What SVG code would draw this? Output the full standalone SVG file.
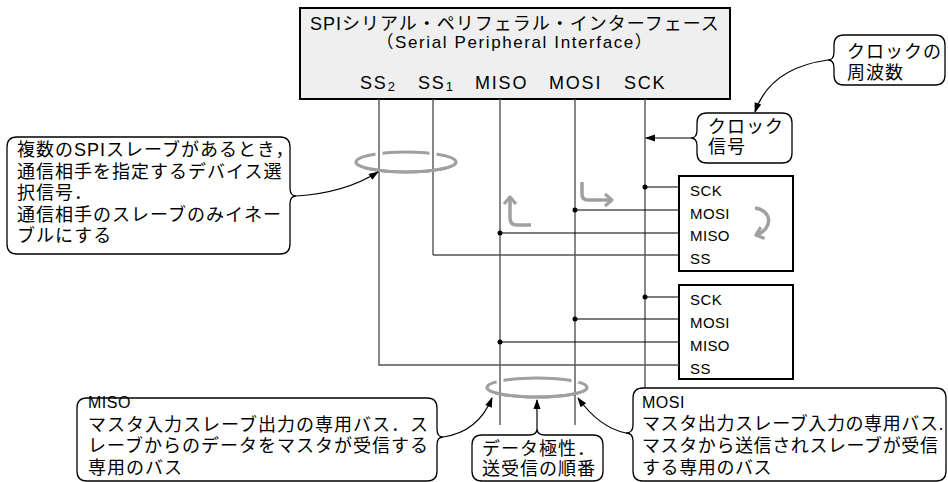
<svg xmlns="http://www.w3.org/2000/svg" width="948" height="482" viewBox="0 0 948 482">
<defs>
<style>
.t{font-family:"Liberation Sans","Noto Sans CJK JP",sans-serif;fill:#000}
.j{font-size:18px;letter-spacing:1px}
.jn{font-size:18px;letter-spacing:0.6px}
.lab{font-size:18px;letter-spacing:1.8px}
.s{font-size:15px;letter-spacing:0.4px}
.box{fill:#fff;stroke:#000;stroke-width:2}
.call{fill:#fff;stroke:#000;stroke-width:1.3}
.w{stroke:#555;stroke-width:1.4;fill:none}
.h{stroke:#000;stroke-width:1.2;fill:none}
.ring{fill:none;stroke:#a0a0a0;stroke-width:3}
.halo{stroke:#fff;stroke-width:7}
.ga{fill:none;stroke:#a0a0a0;stroke-width:3.5;stroke-linejoin:round}
.lead{fill:none;stroke:#000;stroke-width:1.2}
</style>
<marker id="ba" markerUnits="userSpaceOnUse" markerWidth="10" markerHeight="8" refX="9" refY="3.5" orient="auto" overflow="visible">
<path d="M0,0 L10,3.5 L0,7 z" fill="#000"/>
</marker>
<marker id="ga" markerUnits="userSpaceOnUse" markerWidth="10" markerHeight="14" refX="8" refY="6" orient="auto" overflow="visible">
<path d="M1,0 L8,6 L1,12" fill="none" stroke="#a0a0a0" stroke-width="3.2" stroke-linejoin="round"/>
</marker>
</defs>

<g id="master">
<rect x="300" y="8" width="430" height="91" fill="#efefef" stroke="#000" stroke-width="2"/>
<text class="t j" x="310" y="30">SPIシリアル・ペリフェラル・インターフェース</text>
<text class="t" x="515" y="48" text-anchor="middle" style="font-size:17px;letter-spacing:1.6px">（Serial Peripheral Interface）</text>
<text class="t lab" x="360" y="89">SS<tspan style="font-size:13px;letter-spacing:0" dy="2">2</tspan></text>
<text class="t lab" x="418" y="89">SS<tspan style="font-size:13px;letter-spacing:0" dy="2">1</tspan></text>
<text class="t lab" x="475" y="89">MISO</text>
<text class="t lab" x="549" y="89">MOSI</text>
<text class="t lab" x="624" y="89">SCK</text>
</g>

<g id="slave1">
<rect class="box" x="679" y="176" width="114" height="95"/>
<text class="t s" x="690" y="196">SCK</text>
<text class="t s" x="690" y="218.5">MOSI</text>
<text class="t s" x="690" y="241">MISO</text>
<text class="t s" x="690" y="263.5">SS</text>
</g>

<g id="slave2">
<rect class="box" x="679" y="285" width="114" height="94"/>
<text class="t s" x="690" y="305">SCK</text>
<text class="t s" x="690" y="328">MOSI</text>
<text class="t s" x="690" y="351">MISO</text>
<text class="t s" x="690" y="374">SS</text>
</g>

<g id="rings-back">
<ellipse class="ring" cx="406" cy="162" rx="50" ry="10"/>
<ellipse class="ring" cx="537" cy="387.5" rx="50" ry="9.5"/>
<line class="halo" x1="379" y1="147" x2="379" y2="157"/>
<line class="halo" x1="433" y1="147" x2="433" y2="157"/>
<line class="halo" x1="500" y1="373" x2="500" y2="383"/>
<line class="halo" x1="575" y1="373" x2="575" y2="383"/>
</g>

<g id="connectors">
<path class="w" d="M379,99 V365 H679"/>
<path class="w" d="M433,99 V255"/>
<path class="h" d="M433,255 H679"/>
<path class="w" d="M500,99 V425"/>
<path class="w" d="M575,99 V425"/>
<path class="w" d="M645,99 V388"/>
<path class="h" d="M645,187 H679 M575,210 H679 M500,233 H679 M645,297 H679 M575,319 H679 M500,342 H679"/>
<g fill="#000">
<circle cx="645" cy="187" r="2.5"/>
<circle cx="575" cy="210" r="2.5"/>
<circle cx="500" cy="233" r="2.5"/>
<circle cx="645" cy="297" r="2.5"/>
<circle cx="575" cy="319" r="2.5"/>
<circle cx="500" cy="342" r="2.5"/>
</g>
<path class="ring" d="M356,162 A50,10 0 0 0 456,162"/>
<path class="ring" d="M487,387.5 A50,9.5 0 0 0 587,387.5"/>
<path class="ga" d="M531,225 H517 Q510,225 510,218 V197" marker-end="url(#ga)"/>
<path class="ga" d="M582,182 V194 Q582,200 588,200 H612" marker-end="url(#ga)"/>
<path class="ga" d="M755,208 C772,210 774,229 756,235" marker-end="url(#ga)"/>
<path class="lead" d="M296,196 Q345,193 378,172" marker-end="url(#ba)"/>
<path class="lead" d="M828,60 Q770,68 755,112" marker-end="url(#ba)"/>
<path class="lead" d="M691,138 H646" marker-end="url(#ba)"/>
<path class="lead" d="M443,437 Q478,432 492,398" marker-end="url(#ba)"/>
<path class="lead" d="M537,429 V400" marker-end="url(#ba)"/>
<path class="lead" d="M626,433 Q600,428 578,398" marker-end="url(#ba)"/>
</g>

<g id="note-ss">
<path class="call" d="M17,137 H280 Q290,137 290,147 V188 Q290,196 296,196 Q290,196 290,204 V244 Q290,254 280,254 H17 Q7,254 7,244 V147 Q7,137 17,137 Z"/>
<text class="t j" x="17" y="156">複数のSPIスレーブがあるとき，</text>
<text class="t j" x="17" y="177.5">通信相手を指定するデバイス選</text>
<text class="t j" x="17" y="199">択信号．</text>
<text class="t j" x="17" y="220.5">通信相手のスレーブのみイネー</text>
<text class="t j" x="17" y="242">ブルにする</text>
</g>

<g id="note-freq">
<path class="call" d="M844,35 H935 Q945,35 945,45 V75 Q945,85 935,85 H844 Q834,85 834,75 V68 Q834,60 828,60 Q834,60 834,52 V45 Q834,35 844,35 Z"/>
<text class="t j" x="847" y="58">クロックの</text>
<text class="t j" x="847" y="79">周波数</text>
</g>

<g id="note-clk">
<path class="call" d="M707,113 H782 Q792,113 792,123 V153 Q792,163 782,163 H707 Q697,163 697,153 V146 Q697,138 691,138 Q697,138 697,130 V123 Q697,113 707,113 Z"/>
<text class="t j" x="708" y="133">クロック</text>
<text class="t j" x="708" y="153">信号</text>
</g>

<g id="note-miso">
<path class="call" d="M87,398 H427 Q437,398 437,408 V429 Q437,437 443,437 Q437,437 437,445 V471 Q437,481 427,481 H87 Q77,481 77,471 V408 Q77,398 87,398 Z"/>
<text class="t" x="88" y="408" style="font-size:16px;letter-spacing:0.5px">MISO</text>
<text class="t j" x="88" y="430.5">マスタ入力スレーブ出力の専用バス．ス</text>
<text class="t j" x="88" y="452">レーブからのデータをマスタが受信する</text>
<text class="t j" x="88" y="474">専用のバス</text>
</g>

<g id="note-order">
<path class="call" d="M482,435 H529 Q537,435 537,429 Q537,435 545,435 H593 Q603,435 603,445 V471 Q603,481 593,481 H482 Q472,481 472,471 V445 Q472,435 482,435 Z"/>
<text class="t j" x="482" y="455">データ極性．</text>
<text class="t j" x="482" y="474.5">送受信の順番</text>
</g>

<g id="note-mosi">
<path class="call" d="M643,388 H936 Q946,388 946,398 V471 Q946,481 936,481 H643 Q633,481 633,471 V441 Q633,433 626,433 Q633,433 633,425 V398 Q633,388 643,388 Z"/>
<text class="t" x="642" y="408" style="font-size:16px;letter-spacing:0.5px">MOSI</text>
<text class="t jn" x="642" y="430">マスタ出力スレーブ入力の専用バス.</text>
<text class="t jn" x="642" y="452">マスタから送信されスレーブが受信</text>
<text class="t jn" x="642" y="474">する専用のバス</text>
</g>
</svg>
